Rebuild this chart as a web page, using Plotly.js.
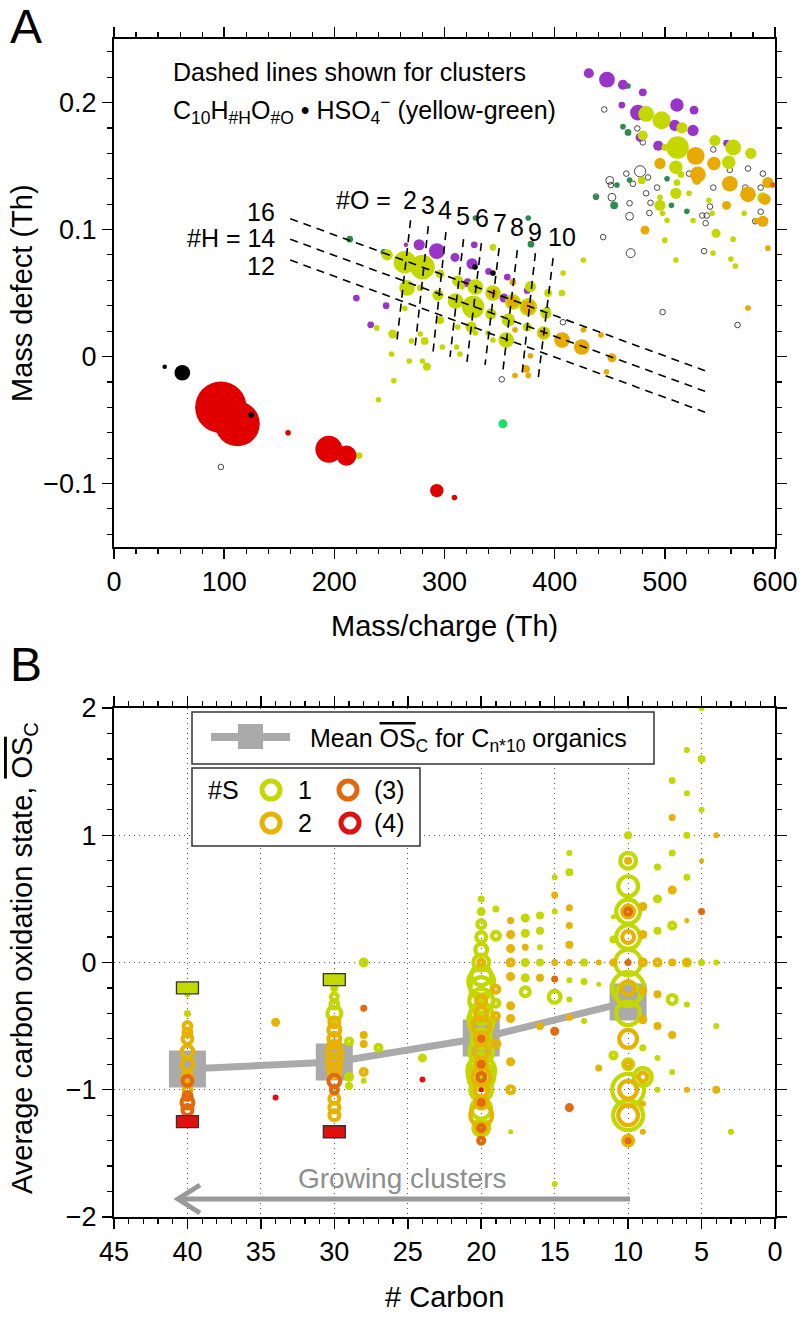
<!DOCTYPE html>
<html><head><meta charset="utf-8">
<script src="https://cdn.plot.ly/plotly-3.0.1.min.js"></script>
<style>html,body{margin:0;padding:0;background:#fff}</style>
</head><body><div id="chart" style="width:803px;height:1317px"></div>
<script>
// ---------------- Panel A data (Mass/charge Th, Mass defect Th, marker diameter px) ----------------
const purpleX = [265,277,293,309.5,327,325,340,321,357,354,375,220,247,233, 431,447.5,462,480,461,475.6,511,509,526.5,525.6,477.5,494,556];
const purpleY = [0.088,0.088,0.083,0.078,0.088,0.073,0.067,0.058,0.0625,0.046,0.052,0.046,0.040,0.025, 0.223,0.218,0.214,0.208,0.198,0.192,0.198,0.182,0.194,0.178,0.1725,0.166,0.168];
const purpleD = [4,10,14,8,6,10,6,8,6,8,6,6,6,6, 9,14,9,7,6,14,12,10,8,10,8,9,6];

const ygX = [248,264,280,344,296,312,316,328,344,378,266,278,294,310,326,342,358,375,389,264,238.5,253,270,278,282,296,298,311,312,324,328,339.5,344,356,314,252,268,280,284,254,240,222.5,426,407.6,394,406.6,392,390,362,376,
  483,497,515.6,480,500,511.6,545.5,562,578,510,514.6,558,511,510,522,540,572,495.6,498,502,525.6,543,546.5,562,543.7,560,564,510,500,479,495.6,589];
const ygY = [0.080,0.0743,0.0704,0.086,0.065,0.0594,0.055,0.0547,0.050,0.055,0.054,0.054,0.0484,0.0437,0.039,0.0335,0.0287,0.0232,0.0185,0.038,0.0225,0.0177,0.0123,0.0177,0.0123,0.0287,0.0075,0.0075,0.0232,0.0232,0.0185,0.0185,0.013,0.013,0.002,0.002,-0.0035,-0.0035,-0.008,-0.019,-0.034,-0.078,0.076,0.0657,0.050,0.050,0.034,0.0185,0.043,0.039,
  0.191,0.186,0.180,0.174,0.1646,0.1646,0.170,0.1646,0.160,0.149,0.1434,0.1529,0.137,0.1285,0.1285,0.123,0.1128,0.119,0.1128,0.1073,0.107,0.1128,0.097,0.0924,0.0814,0.0767,0.0712,0.0759,0.0916,0.1387,0.1254,0.125];
const ygD = [10,20,22,6,8,10,5,14,14,10,14,6,10,14,20,10,12,8,10,5,5,8,5,5,7,7,5,5,5,10,5,5,5,14,5,5,5,5,7,5,5,6,5,5,7,6,10,12,14,16,
  14,16,10,9,6,20,10,14,10,12,6,12,6,10,5,5,5,10,5,5,5,5,8,5,5,5,5,5,5,7,5,10];

const amberX = [344,362,362,376,364,376,374,378,364,390,406.7,424.6,426,442,452,447,575.5,593.6,
  528,495.6,530,544.6,593.6,559,575.5,591,529,556,589,583,482];
const amberY = [0.050,0.0586,0.043,0.039,-0.015,-0.015,-0.0098,0.0005,0.021,0.0185,0.013,0.0075,0.021,0.017,-0.001,-0.012,0.0382,0.0853,
  0.158,0.152,0.1434,0.152,0.137,0.136,0.1277,0.1238,0.1387,0.119,0.1065,0.107,0.0995];
const amberD = [8,6,10,12,5,5,7,5,5,8,14,14,5,5,8,5,5,5,
  16,10,14,12,10,14,14,10,8,8,10,5,8];

const dkGreenX = [214,245,328,376,378.5,466.6,462,466.6,456.5,437.5,454,468,502,520,506];
const dkGreenY = [0.0924,0.082,0.109,0.109,0.0884,0.213,0.181,0.1764,0.135,0.1254,0.119,0.139,0.140,0.1144,0.119];
const dkGreenD = [6,6,5,5,6,5,5,6,5,5,7,5,5,5,5];

const redX = [97,112,158,195,211,293,309];
const redY = [-0.040,-0.053,-0.060,-0.073,-0.078,-0.1056,-0.111];
const redD = [46,40,5,24,18,12,5];

const blackX = [46,62,124.4,327.7,344];
const blackY = [-0.008,-0.0128,-0.046,0.0704,0.0657];
const blackD = [4,14,5,5,5];

const brightGreenX = [353], brightGreenY = [-0.053], brightGreenD = [8];
const orangeRedX = [598], orangeRedY = [0.135], orangeRedD = [5];

const openX = [97,352,393,407.5,445,475,480,544,559,575.5,589,587,573,544,522,587,582,534,537,535.6,469,444,450,451,437.5,452,465,477.5,484.7,471,468,468,483,487,493,486,498,566,538,541];
const openY = [-0.087,-0.018,0.0366,0.027,0.1945,0.1796,0.1686,0.163,0.147,0.148,0.144,0.133,0.133,0.133,0.144,0.114,0.1065,0.111,0.105,0.083,0.0814,0.094,0.1387,0.135,0.126,0.1254,0.144,0.1458,0.141,0.136,0.1207,0.1104,0.1285,0.121,0.133,0.113,0.035,0.0248,0.111,0.118];
const openD = [5,5,5,5,5,5,5,5,5,5,5,5,5,5,5,5,5,5,5,5,8,5,7,5,5,7,5,10,5,5,5,7,5,5,5,5,5,5,5,5];

// dashed lines: constant #H (16, 14, 12)
const hLabels = ['16','#H = 14','12'];
const hX0 = [160,160,160], hY0 = [0.1085,0.0923,0.0759];
const hX1 = [536.5,536.5,536.5], hY1 = [-0.0112,-0.0274,-0.0438];
const hLabelY = [0.1136,0.0932,0.0712];
// dashed lines: constant #O (2..10)
const oLabels = ['2','3','4','5','6','7','8','9','10'];
const oTopX = [269.2,285.3,301.3,317.3,333.5,349.6,366.1,382.5,398.6];
const oTopY = [0.1073,0.1026,0.0979,0.0924,0.0892,0.0853,0.0837,0.0814,0.0775];
const oBotX = [256.9,273.2,289.6,305.0,320.4,336.8,353.1,370.3,384.9];
const oBotY = [0.0130,0.0068,0.0036,-0.0003,-0.0042,-0.0066,-0.0105,-0.0145,-0.0184];
const oLabelX = [268.7,285.0,300.4,316.8,334.0,350.4,365.8,382.1,406.7];
const oLabelY = [0.123,0.119,0.115,0.111,0.109,0.105,0.102,0.098,0.094];

// ---------------- Panel B data (# Carbon, mean OSc, ring diameter px) ----------------
const s1C = [5,5,5,5, 6,6,6,6,6,6, 7,7,7,7,7, 4,4, 3, 8,8,8,8,8, 9,9, 10,10,10,10,10,10,10,10,10,10,10,10, 11,11,11, 12, 13,13,13, 14,14,14,14, 15,15,15,15, 16,16,16,16, 17,17,17,17,17, 18, 19,19,19,
  20,20,20,20,20,20,20,20,20,20,20,20,20,20,20,20, 20,20,20,20,20, 24, 27, 28,28, 29,29,29, 30,30,30,30, 40,40];
const s1OS = [2.0,1.6,1.2,0, 1.67,1.33,1.0,0.67,-0.33,0, 1.43,0.86,0.29,-0.29,-0.86, 0,-0.5, -1.33, 0.75,0.5,-0.75,-1.0,0.25, -0.9,-0.67, 1.0,0.8,0.6,0.4,0.2,0,-0.2,-0.25,-0.4,-0.8,-1.0,-1.2, 0.36,0.18,-0.73, -0.17, 0,-0.15,-0.46, 0.86,0.71,-0.14,-0.29, 0.67,0.4,-0.27,-1.74, 0.37,0.25,0.12,0, 0.35,0.23,0,-0.12,-0.23, -1.33, 0.42,0.21,-0.32,
  0.5,0.4,0.3,0.2,0.1,0,-0.1,-0.2,-0.3,-0.4,-0.5,-0.6,-0.7,-0.8,-0.9,-1.0, -0.15,-0.45,-0.85,-1.15,-1.3, -0.75, -0.67, 0,-0.93, -0.62,-0.9,-0.97, -0.2,-0.27,-0.33,-0.4, -0.25,-0.4];
const s1D = [6,8,6,7, 6,6,7,7,6,10, 7,7,10,13,6, 6,6, 6, 7,9,6,6,8, 22,7, 8,20,24,28,28,30,36,28,28,14,36,34, 5,8,10, 5, 8,7,6, 6,8,6,6, 6,6,16,6, 8,8,6,8, 9,9,9,9,13, 5, 7,12,11,
  7,9,12,14,16,20,24,26,28,26,26,24,28,26,30,26, 30,30,32,24,20, 9, 10, 10,6, 10,10,8, 8,11,12,18, 6,7];

const s2C = [4,4, 5, 6,6,6, 7,7,7,7, 8,8,8, 9,9,9,9,9,9,9,9, 10,10,10,10,10,10,10,10,10, 11, 12,12, 14,14,14,14,14, 15,15, 16,16, 17, 18,18,18,18,18,18,18,18,18, 19,19,19,
  20,20,20,20,20,20,20, 20,20,20,20,20, 28,28,28, 30,30,30,30,30,30,30,30,30,30, 34, 40,40,40,40,40,40,40];
const s2OS = [1.0,-1.0, 0.8, 0.33,-1.0,0, 1.14,0.57,0,-0.57, 0,-0.25,-0.5, 0.44,0.22,0,-0.22,-0.45,-0.9,-1.11,-1.33, 0.8,0.4,0.2,-0.2,-0.6,-0.8,-1.0,-1.2,-1.4, 0, 0,-0.83, 0.43,0.29,0.14,0,-0.43, 0.53,0, -0.12,-0.5, 0.12, 0.33,0.22,0.11,0,-0.11,-0.34,-0.44,-0.78,-1.0, -0.21,-0.42,-0.64,
  0,-0.3,-0.4,-0.5,-0.6,-1.1,-1.2, -0.7,-0.8,-0.9,-1.0,-1.3, -0.57,-0.64,-0.86, -0.47,-0.53,-0.6,-0.67,-0.73,-0.8,-0.86,-1.07,-1.14,-1.2, -0.47, -0.5,-0.55,-0.6,-0.7,-0.8,-0.9,-1.0];
const s2D = [6,8, 5, 5,6,8, 7,9,8,8, 10,8,8, 9,9,10,9,9,13,6,6, 8,16,16,18,22,10,22,24,14, 8, 6,7, 7,7,8,7,7, 7,7, 8,8, 7, 7,9,9,10,9,9,9,9,11, 11,10,11,
  10,14,16,22,16,16,26, 18,16,22,18,14, 8,8,10, 14,16,16,18,20,18,16,14,14,14, 9, 12,12,14,16,16,14,12];

const s3C = [5, 10,10,10, 14, 15,15, 20,20,20,20,20,20, 28, 30,30, 40,40,40,40];
const s3OS = [0.4, 0.4,0,-1.4, -1.14, -0.13,-0.54, -0.6,-0.8,-0.9,-1.1,-1.3,-1.4, -0.36, -0.93,-1.0, -0.93,-1.05,-1.1,-1.16];
const s3D = [7, 10,7,7, 9, 7,9, 8,9,12,9,10,10, 7, 16,11, 14,12,16,14];

const s4C = [20,24,34,40];
const s4OS = [-1.0,-0.92,-1.06,-1.22];
const s4D = [5,6,6,6];

const meanC = [40,30,20,10];
const meanOS = [-0.837,-0.782,-0.593,-0.31];
const maxC = [40,30], maxOS = [-0.2,-0.135];
const minC = [40,30], minOS = [-1.25,-1.33];

// ---------------- styling ----------------
const FONT = 'Liberation Sans, Arial, Helvetica, sans-serif';
const W = 803, H = 1317, ML = 114, MR = 28, MT = 39, MB = 100;
const PW = W-ML-MR, PH = H-MT-MB;
const px2x = p => (p-ML)/PW;
const py2y = p => (H-MB-p)/PH;
const SIZE_A = 1.12;

const C_PURPLE = '#9a34c8', C_YG = '#c4d800', C_AMBER = '#e8aa00', C_DKGREEN = '#2e8b50',
      C_RED = '#e00000', C_BGREEN = '#20dc68', C_ORANGE = '#e36a0c';
const C_S1 = '#c2d800', C_S2 = '#e8b200', C_S3 = '#e36a0c', C_S4 = '#e01010';

function dots(x,y,d,color){
  return {type:'scatter', mode:'markers', x:x, y:y, xaxis:'x', yaxis:'y',
    marker:{color:color, size:d.map(v=>v*SIZE_A), opacity:1, line:{width:0}}, hoverinfo:'skip', showlegend:false};
}
function rings(c,os,d,color){
  const idx = d.map((v,i)=>i).sort((a,b)=>d[b]-d[a]);
  const ds = idx.map(i=>d[i]);
  const w = ds.map(v=>Math.min(4.2, v/2));
  return {type:'scatter', mode:'markers', x:idx.map(i=>c[i]), y:idx.map(i=>os[i]), xaxis:'x2', yaxis:'y2',
    marker:{symbol:'circle-open', color:color, opacity:1, size:ds.map((v,i)=>v-w[i]), line:{width:w, color:color}},
    hoverinfo:'skip', showlegend:false};
}

const traces = [];
// Panel A
traces.push({type:'scatter', mode:'markers', x:openX, y:openY, xaxis:'x', yaxis:'y',
  marker:{symbol:'circle-open', color:'#333', opacity:1, size:openD.map(v=>v*SIZE_A), line:{width:0.9, color:'#333'}}, hoverinfo:'skip', showlegend:false});
traces.push(dots(dkGreenX, dkGreenY, dkGreenD, C_DKGREEN));
traces.push(dots(purpleX, purpleY, purpleD, C_PURPLE));
traces.push(dots(ygX, ygY, ygD, C_YG));
traces.push(dots(amberX, amberY, amberD, C_AMBER));
traces.push(dots(redX, redY, redD, C_RED));
traces.push(dots(blackX, blackY, blackD, '#000'));
traces.push(dots(brightGreenX, brightGreenY, brightGreenD, C_BGREEN));
traces.push(dots(orangeRedX, orangeRedY, orangeRedD, C_ORANGE));
for (let i=0;i<hX0.length;i++){
  traces.push({type:'scatter', mode:'lines', x:[hX0[i],hX1[i]], y:[hY0[i],hY1[i]], xaxis:'x', yaxis:'y',
    line:{color:'#000', width:1.6, dash:'8px,6px'}, hoverinfo:'skip', showlegend:false});
}
for (let i=0;i<oTopX.length;i++){
  traces.push({type:'scatter', mode:'lines', x:[oTopX[i],oBotX[i]], y:[oTopY[i],oBotY[i]], xaxis:'x', yaxis:'y',
    line:{color:'#000', width:1.6, dash:'8px,6px'}, hoverinfo:'skip', showlegend:false});
}
// Panel B
traces.push({type:'scatter', mode:'lines+markers', x:meanC, y:meanOS, xaxis:'x2', yaxis:'y2',
  line:{color:'#aaaaaa', width:7}, marker:{symbol:'square', size:37, color:'#aaaaaa', opacity:1, line:{width:0}},
  hoverinfo:'skip', showlegend:false});
traces.push(rings(s1C, s1OS, s1D, C_S1));
traces.push(rings(s2C, s2OS, s2D, C_S2));
traces.push(rings(s3C, s3OS, s3D, C_S3));
traces.push(rings(s4C, s4OS, s4D, C_S4));

const axBase = {showline:true, linecolor:'#000', linewidth:2, mirror:'ticks', ticks:'outside', ticklen:10,
  tickwidth:1.5, tickcolor:'#000', tickfont:{family:FONT, size:27, color:'#000'}, zeroline:false, showgrid:false,
  minor:{ticks:'outside', ticklen:5, tickwidth:1.2, tickcolor:'#000', showgrid:false}};
function ax(extra){ const o = JSON.parse(JSON.stringify(axBase)); return Object.assign(o, extra); }

const gridB = {showgrid:true, gridcolor:'#555', gridwidth:1, griddash:'1px,4px'};

const annotations = [];
function ann(text, px, py, opts){
  annotations.push(Object.assign({text:text, xref:'paper', yref:'paper', x:px2x(px), y:py2y(py),
    showarrow:false, xanchor:'center', yanchor:'middle', font:{family:FONT, size:26, color:'#000'}}, opts||{}));
}
ann('A', 26, 27, {font:{family:FONT, size:48, color:'#000'}});
ann('B', 26, 664, {font:{family:FONT, size:48, color:'#000'}});
ann('Mass defect (Th)', 22, 293, {textangle:-90, font:{family:FONT, size:29, color:'#000'}});
ann('Mass/charge (Th)', 444, 626, {font:{family:FONT, size:29, color:'#000'}});
ann('Average carbon oxidation state, <span style="text-decoration:overline">OS</span><sub>C</sub>', 24, 958, {textangle:-90, font:{family:FONT, size:29, color:'#000'}});
ann('# Carbon', 444, 1297, {font:{family:FONT, size:29, color:'#000'}});
ann('Dashed lines shown for clusters', 171, 72, {xanchor:'left', font:{family:FONT, size:25, color:'#000'}});
ann('C<sub>10</sub>H<sub>#H</sub>O<sub>#O</sub> \u2022 HSO<sub>4</sub><sup>\u2212</sup> (yellow-green)', 171, 110, {xanchor:'left', font:{family:FONT, size:25, color:'#000'}});
for (let i=0;i<hLabels.length;i++){
  annotations.push({text:hLabels[i], xref:'x', yref:'y', x:148, y:hLabelY[i], xanchor:'right', yanchor:'middle',
    showarrow:false, font:{family:FONT, size:25, color:'#000'}});
}
annotations.push({text:'#O = ', xref:'x', yref:'y', x:260, y:oLabelY[0], xanchor:'right', yanchor:'middle',
  showarrow:false, font:{family:FONT, size:25, color:'#000'}});
for (let i=0;i<oLabels.length;i++){
  annotations.push({text:oLabels[i], xref:'x', yref:'y', x:oLabelX[i], y:oLabelY[i], xanchor:'center', yanchor:'middle',
    showarrow:false, font:{family:FONT, size:25, color:'#000'}});
}
ann('Mean <span style="text-decoration:overline">OS</span><sub>C</sub> for C<sub>n*10</sub> organics', 308, 740, {xanchor:'left', font:{family:FONT, size:25, color:'#000'}});
ann('#S', 206, 790, {xanchor:'left', font:{family:FONT, size:25, color:'#000'}});
ann('1', 305, 790, {font:{family:FONT, size:25, color:'#000'}});
ann('(3)', 389, 790, {font:{family:FONT, size:25, color:'#000'}});
ann('2', 305, 823, {font:{family:FONT, size:25, color:'#000'}});
ann('(4)', 389, 823, {font:{family:FONT, size:25, color:'#000'}});
ann('Growing clusters', 402, 1178, {font:{family:FONT, size:28, color:'#8e8e8e'}});

const shapes = [];
function pbox(x0,x1,y0,y1,fill,line){
  shapes.push({type:'rect', xref:'paper', yref:'paper', x0:px2x(x0), x1:px2x(x1), y0:py2y(y1), y1:py2y(y0),
    fillcolor:fill, line:line, layer:'above'});
}
pbox(192,654,712,764,'#fff',{color:'#333', width:1.5});
pbox(192,420,768,846,'#fff',{color:'#333', width:1.5});
shapes.push({type:'line', xref:'paper', yref:'paper', x0:px2x(211), x1:px2x(290), y0:py2y(737), y1:py2y(737),
  line:{color:'#aaaaaa', width:8}, layer:'above'});
pbox(238,263,724,749,'#aaaaaa',{width:0});
function pring(cx,cy,color){
  shapes.push({type:'circle', xref:'paper', yref:'paper', x0:px2x(cx-9), x1:px2x(cx+9), y0:py2y(cy+9), y1:py2y(cy-9),
    line:{color:color, width:5}, fillcolor:'rgba(0,0,0,0)', layer:'above'});
}
pring(271,790,C_S1); pring(348,790,C_S3); pring(271,823,C_S2); pring(350,823,C_S4);
for (let i=0;i<maxC.length;i++){
  shapes.push({type:'rect', xref:'x2', yref:'y2', xsizemode:'pixel', ysizemode:'pixel', xanchor:maxC[i], yanchor:maxOS[i],
    x0:-11, x1:11, y0:-6, y1:6, fillcolor:C_S1, line:{color:'#333', width:1.3}, layer:'above'});
  shapes.push({type:'rect', xref:'x2', yref:'y2', xsizemode:'pixel', ysizemode:'pixel', xanchor:minC[i], yanchor:minOS[i],
    x0:-11, x1:11, y0:-6, y1:6, fillcolor:C_S4, line:{color:'#333', width:1.3}, layer:'above'});
}
shapes.push({type:'line', xref:'paper', yref:'paper', x0:px2x(630), x1:px2x(180), y0:py2y(1199), y1:py2y(1199),
  line:{color:'#999999', width:5}, layer:'above'});
shapes.push({type:'path', xref:'paper', yref:'paper',
  path:'M'+px2x(200)+','+py2y(1185)+' L'+px2x(178)+','+py2y(1199)+' L'+px2x(200)+','+py2y(1213),
  line:{color:'#999999', width:5}, layer:'above'});

const layout = {
  width:W, height:H, margin:{l:ML, r:MR, t:MT, b:MB}, paper_bgcolor:'#fff', plot_bgcolor:'#fff',
  font:{family:FONT, color:'#000'}, showlegend:false,
  xaxis: ax({domain:[0,1], anchor:'y', range:[-0.01,600.01], tick0:0, dtick:100, minor:Object.assign({}, axBase.minor, {dtick:20})}),
  yaxis: ax({domain:[py2y(547),1], anchor:'x', range:[-0.15,0.25], tick0:0, dtick:0.1, minor:Object.assign({}, axBase.minor, {dtick:0.02})}),
  xaxis2: Object.assign(ax({domain:[0,1], anchor:'y2', range:[45.0001,-0.0001], tick0:0, dtick:5}), gridB,
     {minor:Object.assign({}, axBase.minor, {dtick:1})}),
  yaxis2: Object.assign(ax({domain:[0,py2y(708)], anchor:'x2', range:[-2.0001,2.0001], tick0:0, dtick:1}), gridB,
     {minor:Object.assign({}, axBase.minor, {dtick:0.2})}),
  annotations: annotations, shapes: shapes
};
Plotly.newPlot('chart', traces, layout, {displayModeBar:false, staticPlot:true});
</script></body></html>
